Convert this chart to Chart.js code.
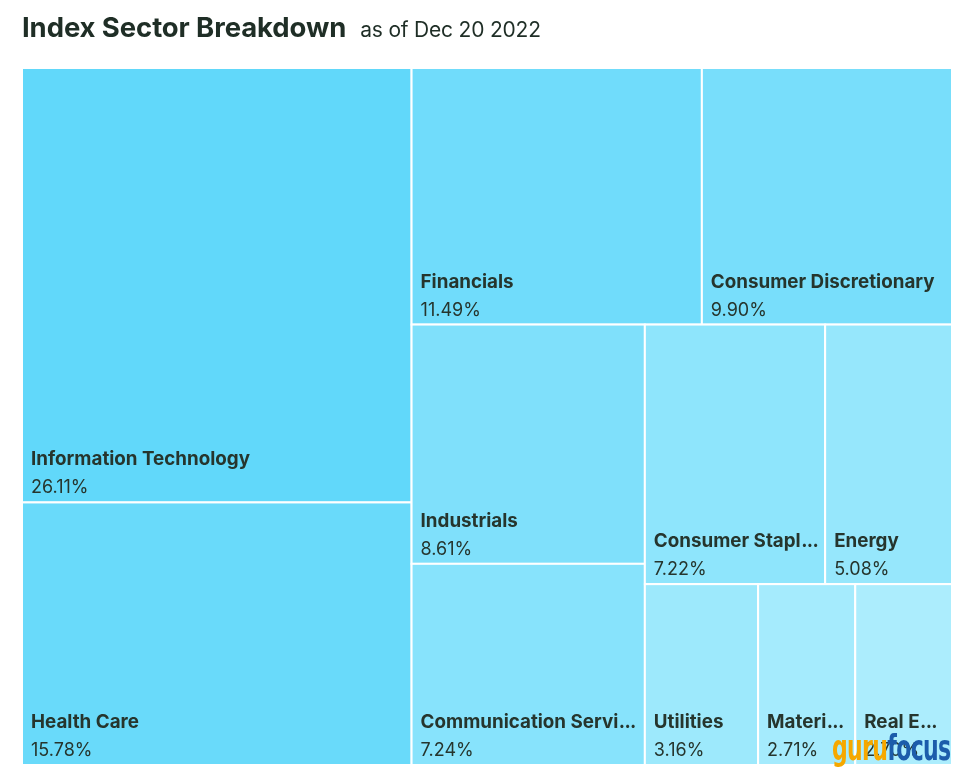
<!DOCTYPE html>
<html>
<head>
<meta charset="utf-8">
<script src="https://cdn.jsdelivr.net/npm/chart.js@4.4.1/dist/chart.umd.min.js"></script>
<style>
  html, body { margin: 0; padding: 0; background: #fff; }
  #wrap { position: relative; width: 960px; height: 777px; }
  #title { position: absolute; left: 22px; top: 10px; font-family: Inter, sans-serif; color: #1f2e26; white-space: nowrap; }
  #title b { font-size: 27.5px; font-weight: 700; letter-spacing: -0.1px; }
  #title span { font-size: 21px; font-weight: 400; margin-left: 14px; letter-spacing: -0.2px; }
  #logo { position: absolute; left: 832px; top: 727px; font-family: "DejaVu Sans Condensed", "DejaVu Sans", sans-serif;
          font-size: 36px; font-weight: 700; letter-spacing: -1px; transform: scaleX(0.68); transform-origin: left top; white-space: nowrap; }
</style>
</head>
<body>
<div id="wrap">
  <canvas id="treemap" width="960" height="777"></canvas>
  <div id="title"><b>Index Sector Breakdown</b><span>as of Dec 20 2022</span></div>
  <div id="logo"><span style="color:#f6a800">guru</span><span style="color:#1c5cab">focus</span></div>
</div>
<script>
// Datos del treemap (peso de cada sector en el indice, %)
const sectors = ["Information Technology", "Health Care", "Financials", "Consumer Discretionary",
  "Industrials", "Communication Services", "Consumer Staples", "Energy", "Utilities", "Materials", "Real Estate"];
const weights = [26.11, 15.78, 11.49, 9.90, 8.61, 7.24, 7.22, 5.08, 3.16, 2.71, 2.70];

// Colores: del mas oscuro (mayor peso) al mas claro
const darkColor = [97, 216, 250];
const lightColor = [172, 237, 253];

function cellColor(i, n) {
  const t = i / (n - 1);
  const c = darkColor.map((d, k) => Math.round(d + (lightColor[k] - d) * t));
  return `rgb(${c[0]},${c[1]},${c[2]})`;
}

// Algoritmo squarified (Bruls) sobre un rectangulo w x h, devuelve fracciones 0..1
function squarify(values, W, H) {
  const total = values.reduce((a, b) => a + b, 0);
  const areas = values.map(v => v * W * H / total);
  const out = [];
  let x = 0, y = 0, w = W, h = H, i = 0;
  const worst = (row, side) => {
    const s = row.reduce((a, b) => a + b, 0);
    const mx = Math.max(...row), mn = Math.min(...row);
    return Math.max(side * side * mx / (s * s), (s * s) / (side * side * mn));
  };
  while (i < areas.length) {
    const side = Math.min(w, h);
    let row = [areas[i]], j = i + 1;
    let best = worst(row, side);
    while (j < areas.length) {
      const next = row.concat(areas[j]);
      const r = worst(next, side);
      if (r > best * 1.02) break;
      row = next; best = r; j++;
    }
    const thick = row.reduce((a, b) => a + b, 0) / side;
    if (w >= h) {
      let cy = y;
      row.forEach(a => { const hh = a / thick; out.push({ x0: x, y0: cy, x1: x + thick, y1: cy + hh }); cy += hh; });
      x += thick; w -= thick;
    } else {
      let cx = x;
      row.forEach(a => { const ww = a / thick; out.push({ x0: cx, y0: y, x1: cx + ww, y1: y + thick }); cx += ww; });
      y += thick; h -= thick;
    }
    i = j;
  }
  return out.map(r => ({ x0: r.x0 / W, y0: r.y0 / H, x1: r.x1 / W, y1: r.y1 / H }));
}

// Texto recortado con puntos suspensivos compactos
const DOT_STEP = 5.6;
function drawFitted(ctx, text, x, y, maxW) {
  if (ctx.measureText(text).width <= maxW) { ctx.fillText(text, x, y); return; }
  let t = text;
  while (t.length > 1 && ctx.measureText(t).width + DOT_STEP * 3 > maxW) t = t.slice(0, -1);
  t = t.trimEnd();
  ctx.fillText(t, x, y);
  let dx = x + ctx.measureText(t).width + 0.5;
  for (let k = 0; k < 3; k++) { ctx.fillText(".", dx, y); dx += DOT_STEP; }
}

// Plugin que dibuja las celdas usando las escalas x / y del grafico
const treemapPlugin = {
  id: "treemapCells",
  afterDatasetsDraw(chart) {
    const { ctx, chartArea, scales } = chart;
    const xs = scales.x, ys = scales.y;
    const cells = squarify(weights, chartArea.width, chartArea.height);
    ctx.save();
    cells.forEach((c, i) => {
      const left = xs.getPixelForValue(c.x0 * 100);
      const right = xs.getPixelForValue(c.x1 * 100);
      const top = ys.getPixelForValue(c.y0 * 100);
      const bottom = ys.getPixelForValue(c.y1 * 100);
      ctx.fillStyle = cellColor(i, weights.length);
      ctx.fillRect(left, top, right - left, bottom - top);
      ctx.strokeStyle = "#ffffff";
      ctx.lineWidth = 2;
      ctx.strokeRect(left, top, right - left, bottom - top);

      const pad = 9;
      ctx.fillStyle = "#26352d";
      ctx.textBaseline = "alphabetic";
      ctx.font = "700 18.8px Inter";
      drawFitted(ctx, sectors[i], left + pad, bottom - 37, right - left - pad - 6);
      ctx.font = "400 18px Inter";
      ctx.fillText(weights[i].toFixed(2) + "%", left + pad, bottom - 9);
    });
    ctx.restore();
  }
};

const ctx = document.getElementById("treemap").getContext("2d");
const chart = new Chart(ctx, {
  type: "scatter",
  data: { datasets: [{ data: [] }] },
  options: {
    responsive: false,
    animation: false,
    layout: { padding: { left: 22, top: 68, right: 8, bottom: 12 } },
    scales: {
      x: { type: "linear", min: 0, max: 100, display: false },
      y: { type: "linear", min: 0, max: 100, reverse: true, display: false }
    },
    plugins: { legend: { display: false }, tooltip: { enabled: false } }
  },
  plugins: [treemapPlugin]
});
</script>
</body>
</html>
